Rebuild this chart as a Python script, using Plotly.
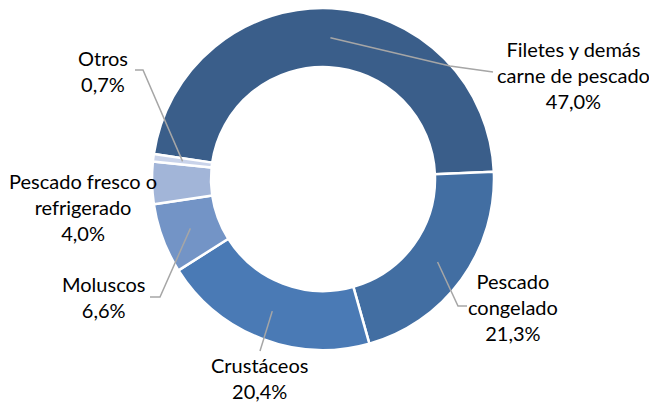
import numpy as np
import plotly.graph_objects as go

# data
categories = ["Filetes y demás carne de pescado", "Pescado congelado", "Crustáceos",
              "Moluscos", "Pescado fresco o refrigerado", "Otros"]
values = [47.0, 21.3, 20.4, 6.6, 4.0, 0.7]
label_text = ["Filetes y demás<br>carne de pescado<br>47,0%",
              "Pescado<br>congelado<br>21,3%",
              "Crustáceos<br>20,4%",
              "Moluscos<br>6,6%",
              "Pescado fresco o<br>refrigerado<br>4,0%",
              "Otros<br>0,7%"]
colors = ["#3A5E8A", "#426EA2", "#4A7AB5", "#7394C6", "#A2B5D8", "#C9D3EA"]

W, H = 649, 404
CX, CY, R_OUT = 323, 179, 171
HOLE = 0.655
ROTATION = -81.6

# label placement (pixel centre of text block) and leader line bends
label_pos = [(573, 75), (513, 307), (259, 378), (104, 297), (83, 207), (103, 71)]
leader_pts = [
    [(450, 66), (493, 72)],
    [(458, 306), (467, 306)],
    [(260, 351)],
    [(160, 297), (150, 297)],
    None,
    [(143, 70), (135, 70)],
]

fig = go.Figure(go.Pie(
    labels=categories, values=values, sort=False, direction="clockwise",
    rotation=ROTATION, hole=HOLE, textinfo="none", hoverinfo="label+percent",
    marker=dict(colors=colors, line=dict(color="white", width=2.5)),
    domain=dict(x=[(CX - R_OUT) / W, (CX + R_OUT) / W],
                y=[1 - (CY + R_OUT) / H, 1 - (CY - R_OUT) / H]),
))

def px(x, y):
    return x / W, 1 - y / H

total = sum(values)
cum = np.cumsum([0] + values[:-1])
r_mid = R_OUT * (1 + HOLE) / 2
for v, c, txt, pos, pts in zip(values, cum, label_text, label_pos, leader_pts):
    lx, ly = px(*pos)
    fig.add_annotation(x=lx, y=ly, xref="paper", yref="paper", text=txt,
                       showarrow=False, xanchor="center", yanchor="middle", align="center",
                       font=dict(family="Lato", size=20, color="#000000"))
    if pts is None:
        continue
    ang = np.radians(ROTATION + (c + v / 2) / total * 360)
    path = [(CX + r_mid * np.sin(ang), CY - r_mid * np.cos(ang))] + pts
    d = "M " + " L ".join(f"{px(x, y)[0]},{px(x, y)[1]}" for x, y in path)
    fig.add_shape(type="path", path=d, xref="paper", yref="paper",
                  line=dict(color="#A6A6A6", width=1.5))

fig.update_layout(width=W, height=H, margin=dict(l=0, r=0, t=0, b=0),
                  showlegend=False, paper_bgcolor="white", plot_bgcolor="white")
fig.write_html("out.html", config={"displayModeBar": False},
               post_script="document.body.style.margin='0';document.body.style.overflow='hidden';")
